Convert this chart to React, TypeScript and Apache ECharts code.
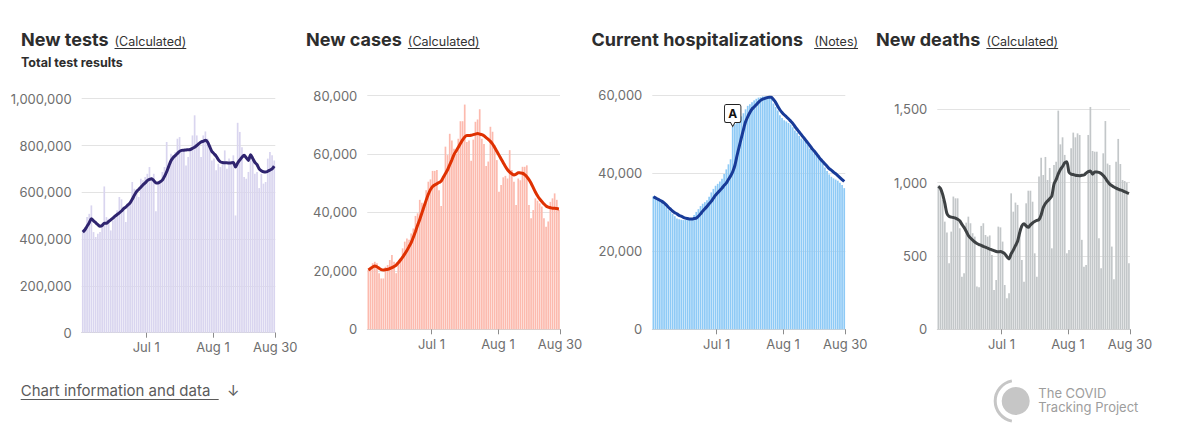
import React, { useEffect, useRef } from 'react';
import * as echarts from 'echarts';

// Days counted from Jun 1 2020; bars run Jun 2 .. Aug 30 (90 days)
const dayCount = 90;
const tickDays = [30, 61, 90];
const tickLabels = ['Jul 1', 'Aug 1', 'Aug 30'];

const testsDaily = [
  430000, 452000, 494000, 508000, 544000, 430000, 409000, 423000, 430000, 452000,
  625000, 494000, 487000, 437000, 480000, 501000, 523000, 580000, 570000, 523000,
  473000, 544000, 558000, 644000, 615000, 608000, 580000, 658000, 651000, 665000,
  679000, 708000, 665000, 679000, 519000, 644000, 644000, 687000, 708000, 815000,
  722000, 765000, 758000, 772000, 829000, 836000, 786000, 779000, 715000, 751000,
  779000, 843000, 929000, 843000, 808000, 751000, 843000, 860000, 829000, 793000,
  736000, 744000, 694000, 722000, 708000, 722000, 779000, 701000, 744000, 722000,
  758000, 501000, 897000, 858000, 793000, 665000, 658000, 687000, 758000, 744000,
  679000, 687000, 618000, 679000, 637000, 644000, 744000, 772000, 758000, 736000,
];
const testsAvg = [
  430000, 440000, 455000, 470000, 487000, 478000, 470000, 462000, 455000, 458000,
  468000, 468000, 475000, 482000, 490000, 498000, 505000, 512000, 520000, 530000,
  537000, 546000, 555000, 570000, 588000, 603000, 612000, 622000, 632000, 640000,
  650000, 655000, 658000, 650000, 640000, 640000, 645000, 652000, 668000, 688000,
  712000, 735000, 748000, 757000, 766000, 775000, 779000, 780000, 781000, 782000,
  783000, 788000, 793000, 800000, 808000, 815000, 818000, 822000, 815000, 795000,
  775000, 765000, 755000, 740000, 730000, 727000, 726000, 726000, 725000, 726000,
  727000, 708000, 725000, 738000, 750000, 758000, 748000, 736000, 761000, 745000,
  728000, 718000, 700000, 692000, 688000, 687000, 690000, 695000, 700000, 712000,
];

const casesDaily = [
  20300, 20300, 22600, 23100, 22600, 19200, 17400, 17400, 21400, 22000,
  23700, 25400, 23100, 19200, 22600, 24300, 27700, 30000, 31100, 30600,
  32800, 34500, 38800, 39700, 44300, 43300, 41400, 47600, 50500, 51300,
  54200, 54200, 54500, 47600, 42200, 51600, 62500, 59600, 66900, 64600,
  61800, 60000, 65200, 71200, 71200, 76900, 64100, 64600, 57700, 64900,
  71000, 71800, 75300, 65200, 63400, 55900, 57400, 69300, 67600, 63000,
  57900, 47100, 49400, 52000, 52500, 51600, 61300, 54500, 50500, 42500,
  51600, 51000, 55600, 55600, 56100, 42500, 38000, 40800, 44800, 44000,
  43100, 42000, 38000, 35100, 36900, 43600, 44800, 46500, 44300, 40800,
];
const casesAvg = [
  20300, 20800, 21300, 21700, 21400, 20900, 20400, 20300, 20400, 20500,
  20800, 21100, 21500, 22000, 22800, 23700, 24700, 25800, 27000, 28300,
  29700, 31500, 33500, 35600, 37600, 39800, 42000, 44200, 46200, 47800,
  48900, 49400, 49800, 50200, 50700, 52000, 53300, 54600, 56300, 58000,
  59800, 61000, 62300, 63600, 64800, 65800, 66300, 66300, 66400, 66600,
  66800, 67000, 66800, 66600, 66200, 65600, 65000, 64300, 63400, 62200,
  60900, 59600, 58300, 57000, 55700, 54600, 53800, 53200, 52800, 53100,
  53600, 53500, 53400, 52900, 52200, 51200, 50000, 48500, 47000, 45700,
  44600, 43700, 42900, 42200, 41800, 41600, 41400, 41400, 41300, 41200,
];

const hospDaily = [
  34100, 33700, 33200, 32800, 32500, 32000, 31300, 30700, 30200, 29600,
  29000, 28400, 28200, 28100, 28000, 28100, 28100, 28200, 28400, 29300,
  30100, 30800, 31600, 32200, 32600, 33100, 34000, 35100, 36000, 36800,
  37300, 37900, 38600, 39800, 41000, 42300, 43600, 52000, 52600, 53100,
  53800, 54600, 55400, 56400, 57300, 57700, 58200, 58700, 59100, 59400,
  59500, 59700, 59700, 59700, 59600, 59500, 57900, 57000, 56100, 54900,
  54200, 53600, 53300, 52900, 52500, 51800, 51000, 50400, 49600, 48900,
  48500, 48200, 47300, 46300, 45800, 45100, 44600, 44000, 43500, 42600,
  41500, 40600, 39700, 39100, 38700, 38400, 38100, 37600, 37000, 36200,
];
const hospAvg = [
  34000, 33700, 33400, 33100, 32800, 32400, 31900, 31300, 30800, 30300,
  29900, 29600, 29200, 29000, 28700, 28500, 28400, 28300, 28300, 28400,
  28500, 29000, 29600, 30300, 30900, 31500, 32200, 32800, 33600, 34400,
  35000, 35600, 36200, 36900, 37500, 38400, 39300, 40400, 42000, 44500,
  46800, 49000, 51200, 53200, 54500, 55600, 56500, 57000, 57600, 58200,
  58700, 59000, 59200, 59400, 59500, 59500, 58900, 58200, 57200, 56300,
  55600, 55000, 54500, 54000, 53400, 52800, 52000, 51300, 50600, 49900,
  49200, 48500, 47800, 47100, 46300, 45700, 45000, 44300, 43600, 43000,
  42400, 41800, 41200, 40800, 40300, 39900, 39400, 38900, 38400, 37900,
];
const hospNoteDay = 37;
const hospNoteLabel = 'A';

const deathsDaily = [
  980, 950, 882, 734, 660, 450, 666, 905, 893, 893,
  689, 359, 382, 727, 768, 723, 655, 632, 291, 286,
  705, 723, 643, 632, 640, 507, 268, 336, 700, 695,
  598, 302, 211, 245, 927, 802, 864, 848, 689, 473,
  325, 859, 945, 945, 870, 518, 359, 1041, 1170, 1052,
  1175, 1018, 1100, 552, 1120, 1143, 1491, 1261, 1309, 1189,
  518, 541, 1234, 1341, 1309, 1336, 1325, 610, 427, 439,
  1325, 1516, 1216, 1211, 1211, 620, 416, 1200, 1420, 1130,
  1120, 564, 341, 1143, 1298, 1127, 1018, 1011, 1000, 450,
];
const deathsAvg = [
  975, 960, 920, 860, 790, 770, 765, 762, 758, 750,
  740, 715, 695, 668, 640, 622, 608, 595, 585, 578,
  573, 565, 560, 553, 547, 542, 536, 530, 528, 530,
  525, 515, 495, 480, 515, 540, 570, 600, 660, 705,
  720, 705, 695, 712, 725, 735, 742, 748, 780, 830,
  858, 875, 890, 910, 990, 1020, 1060, 1090, 1110, 1135,
  1143, 1070, 1058, 1055, 1050, 1048, 1047, 1050, 1052, 1065,
  1075, 1080, 1058, 1072, 1072, 1070, 1062, 1048, 1030, 1008,
  990, 980, 970, 962, 955, 950, 945, 938, 932, 925,
];

const FONT = 'Inter, "Noto Sans", "DejaVu Sans", sans-serif';

function measure(text: string, font: string): number {
  const c = document.createElement('canvas').getContext('2d');
  if (!c) return text.length * 6;
  c.font = font;
  return c.measureText(text).width;
}

export default function App() {
  const ref = useRef<HTMLDivElement>(null);

  useEffect(() => {
    if (!ref.current) return;
    const chart = echarts.init(ref.current, undefined, { renderer: 'svg' });

    const panels = [
      { left: 81.7, top: 98.7, width: 193.6, height: 234, max: 1000000, interval: 200000, bar: '#d9d5ef', line: '#2f246f', daily: testsDaily, avg: testsAvg },
      { left: 367.3, top: 95.5, width: 192.7, height: 233.8, max: 80000, interval: 20000, bar: '#fcbaae', line: '#df3102', daily: casesDaily, avg: casesAvg },
      { left: 652.3, top: 95.3, width: 193, height: 234, max: 60000, interval: 20000, bar: '#8ecaf6', line: '#183b98', daily: hospDaily, avg: hospAvg },
      { left: 937.3, top: 109.3, width: 192.7, height: 220, max: 1500, interval: 500, bar: '#c3c7c9', line: '#3e4244', daily: deathsDaily, avg: deathsAvg },
    ];

    const series: any[] = [];
    panels.forEach((p, k) => {
      const bar: any = {
        type: 'bar',
        xAxisIndex: k,
        yAxisIndex: k,
        barWidth: 1.7,
        clip: false,
        itemStyle: { color: p.bar },
        data: p.daily.map((v, i) => [i + 0.5, v]),
        z: 2,
      };
      if (k === 2) {
        bar.markPoint = {
          symbol: 'path://M2,0 L17,0 Q19,0 19,2 L19,16 Q19,18 17,18 L12,18 L9.5,22 L7,18 L2,18 Q0,18 0,16 L0,2 Q0,0 2,0 Z',
          symbolSize: [19, 22],
          symbolKeepAspect: true,
          symbolOffset: [0, -11],
          itemStyle: { color: '#ffffff', borderColor: '#222222', borderWidth: 1 },
          label: {
            show: true,
            formatter: hospNoteLabel,
            position: 'inside',
            offset: [0, -2],
            color: '#111111',
            fontWeight: 'bold',
            fontSize: 12,
            fontFamily: FONT,
          },
          data: [{ coord: [hospNoteDay + 0.5, hospDaily[hospNoteDay]] }],
          z: 10,
        };
      }
      series.push(bar);
      series.push({
        type: 'line',
        xAxisIndex: k,
        yAxisIndex: k,
        data: p.avg.map((v, i) => [i + 0.5, v]),
        showSymbol: false,
        smooth: 0.25,
        lineStyle: { color: p.line, width: 3 },
        z: 5,
      });
    });

    const titleFont = (size: number, weight: string) => `${weight} ${size}px ${FONT}`;
    const text = (x: number, baseline: number, t: string, size: number, weight: string, fill: string) => ({
      type: 'text',
      x,
      y: baseline - 0.36 * size,
      style: { text: t, font: titleFont(size, weight), fill, align: 'left', verticalAlign: 'middle' },
    });
    const underline = (x: number, y: number, w: number, color: string) => ({
      type: 'line',
      shape: { x1: x, y1: y, x2: x + w, y2: y },
      style: { stroke: color, lineWidth: 1 },
    });

    const titles = [
      { x: 21, t: 'New tests', gap: 6, n: '(Calculated)' },
      { x: 306, t: 'New cases', gap: 6, n: '(Calculated)' },
      { x: 591.5, t: 'Current hospitalizations', gap: 11, n: '(Notes)' },
      { x: 876, t: 'New deaths', gap: 6, n: '(Calculated)' },
    ];
    const graphic: any[] = [];
    titles.forEach((tt) => {
      const tw = measure(tt.t, titleFont(18, 'bold'));
      const nx = tt.x + tw + tt.gap;
      graphic.push(text(tt.x, 46, tt.t, 18, 'bold', '#2d2d2d'));
      graphic.push(text(nx, 46, tt.n, 12.5, 'normal', '#333333'));
      graphic.push(underline(nx, 48.5, measure(tt.n, titleFont(12.5, 'normal')), '#333333'));
    });
    graphic.push(text(21, 66.5, 'Total test results', 12.5, 'bold', '#2d2d2d'));

    // footer
    graphic.push(text(20.7, 396, 'Chart information and data', 15, 'normal', '#5b5b5b'));
    graphic.push(underline(20.7, 399.5, 198, '#5b5b5b'));
    graphic.push(text(227, 396, '↓', 15, 'normal', '#5b5b5b'));

    // logo
    graphic.push({ type: 'circle', shape: { cx: 1015.7, cy: 401, r: 14 }, style: { fill: '#c6c6c6' } });
    graphic.push({
      type: 'arc',
      shape: { cx: 1015.7, cy: 401, r: 20.5, startAngle: Math.PI * 0.56, endAngle: Math.PI * 1.44, clockwise: true },
      style: { stroke: '#c6c6c6', lineWidth: 3, fill: 'none' },
    });
    graphic.push(text(1038.3, 397.5, 'The COVID', 13, 'normal', '#9d9d9d'));
    graphic.push(text(1038.3, 412, 'Tracking Project', 13, 'normal', '#9d9d9d'));

    const option: any = {
      animation: false,
      backgroundColor: '#ffffff',
      textStyle: { fontFamily: FONT },
      grid: panels.map((p) => ({ left: p.left, top: p.top, width: p.width, height: p.height, containLabel: false })),
      xAxis: panels.map((p, k) => ({
        type: 'value',
        gridIndex: k,
        min: 0,
        max: dayCount,
        axisLine: { show: true, lineStyle: { color: '#d4d4d4', width: 1 } },
        axisTick: { show: true, customValues: tickDays, length: 5, lineStyle: { color: '#8c8c8c' } },
        axisLabel: {
          customValues: tickDays,
          formatter: (v: number) => {
            const idx = tickDays.indexOf(Math.round(v));
            return idx >= 0 ? tickLabels[idx] : '';
          },
          color: '#6e6e6e',
          fontSize: 13,
          margin: 8,
          fontFamily: FONT,
        },
        splitLine: { show: false },
      })),
      yAxis: panels.map((p, k) => ({
        type: 'value',
        gridIndex: k,
        min: 0,
        max: p.max,
        interval: p.interval,
        axisLine: { show: false },
        axisTick: { show: false },
        axisLabel: {
          formatter: (v: number) => v.toLocaleString('en-US'),
          color: '#6e6e6e',
          fontSize: 13,
          margin: 10,
          fontFamily: FONT,
        },
        splitLine: { show: true, lineStyle: { color: '#e3e3e3', width: 1 } },
      })),
      series,
      graphic,
    };

    chart.setOption(option);
    return () => chart.dispose();
  }, []);

  return (
    <div
      ref={ref}
      style={{ position: 'absolute', left: 0, top: 0, width: 1185, height: 444, background: '#fff' }}
    />
  );
}
